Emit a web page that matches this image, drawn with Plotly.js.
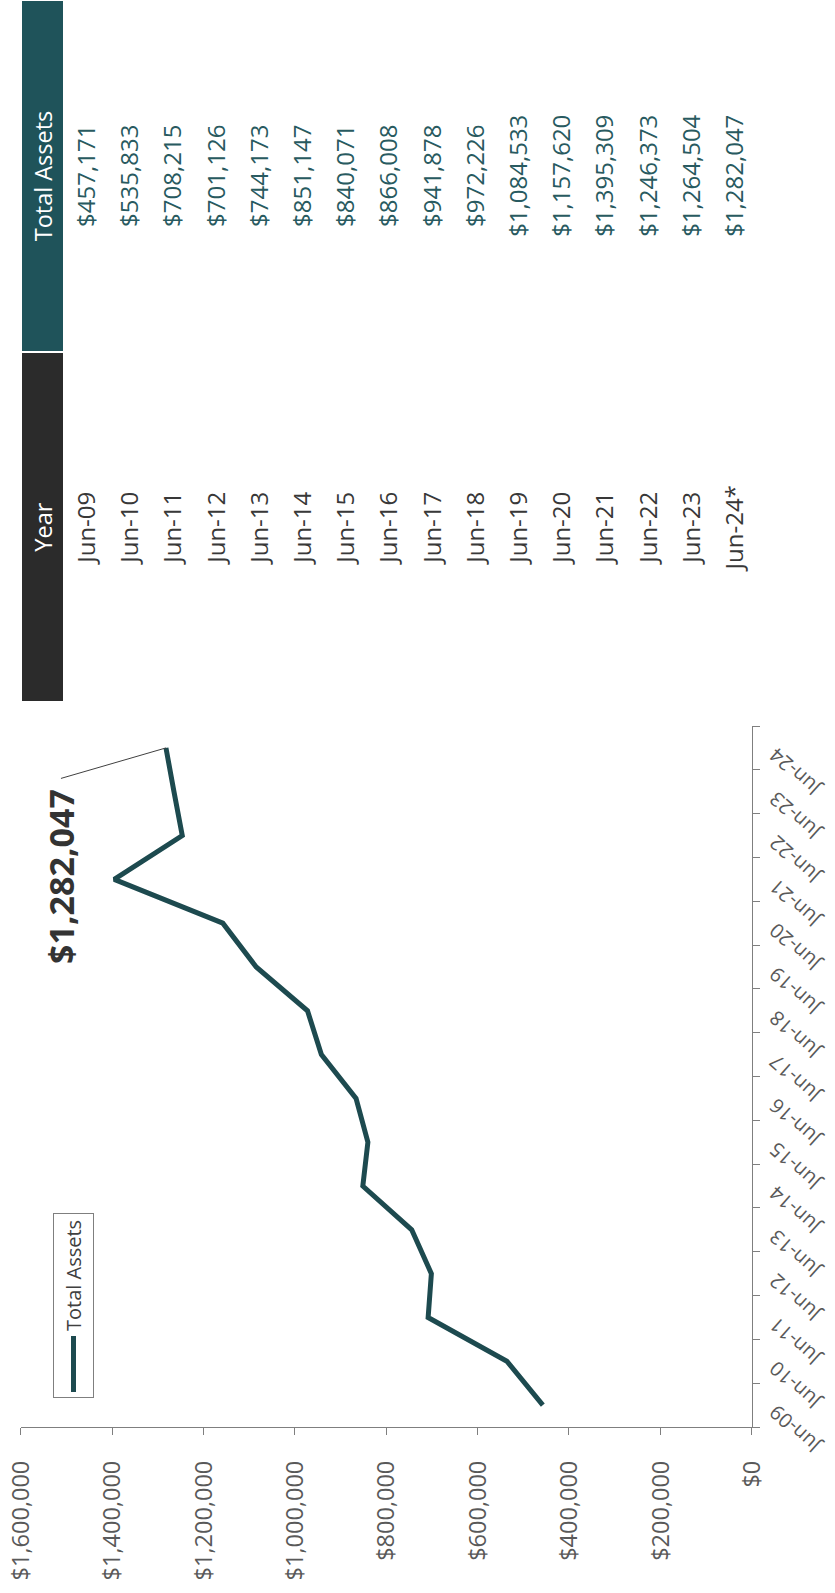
<!DOCTYPE html>
<html>
<head>
<meta charset="utf-8">
<script src="https://cdn.plot.ly/plotly-3.0.1.min.js"></script>
<style>
  html, body { margin: 0; padding: 0; background: #ffffff; }
  body { width: 835px; height: 1593px; overflow: hidden; position: relative; }
  #chart {
    position: absolute; left: 0; top: 0;
    width: 1593px; height: 835px;
    transform-origin: 0 0;
    transform: translate(0px, 1593px) rotate(-90deg);
  }
</style>
</head>
<body>
<div id="chart"></div>
<script>
// ---- data ----
const years = ['Jun-09','Jun-10','Jun-11','Jun-12','Jun-13','Jun-14','Jun-15','Jun-16',
               'Jun-17','Jun-18','Jun-19','Jun-20','Jun-21','Jun-22','Jun-23','Jun-24'];
const tableYears = ['Jun-09','Jun-10','Jun-11','Jun-12','Jun-13','Jun-14','Jun-15','Jun-16',
                    'Jun-17','Jun-18','Jun-19','Jun-20','Jun-21','Jun-22','Jun-23','Jun-24*'];
const totalAssets = [457171, 535833, 708215, 701126, 744173, 851147, 840071, 866008,
                     941878, 972226, 1084533, 1157620, 1395309, 1246373, 1264504, 1282047];
const tableHeaders = ['Year', 'Total Assets'];
const seriesName = 'Total Assets';

// ---- geometry (unrotated frame 1593 x 835) ----
const W = 1593, H = 835;
const fmt = v => '$' + v.toLocaleString('en-US');
const FONT = '"Open Sans", "DejaVu Sans", sans-serif';

const lineTrace = {
  type: 'scatter', mode: 'lines',
  x: years, y: totalAssets, name: seriesName,
  line: { color: '#1d4a4f', width: 5 },
  xaxis: 'x', yaxis: 'y'
};

// table body: one text column per table column, on its own hidden axes
const yearCol = {
  type: 'scatter', mode: 'text', showlegend: false,
  x: tableYears.map(() => tableHeaders[0]), y: tableYears,
  text: tableYears, textposition: 'middle center',
  textfont: { family: FONT, size: 24, color: '#383838' },
  xaxis: 'x2', yaxis: 'y2'
};
const assetCol = {
  type: 'scatter', mode: 'text', showlegend: false,
  x: tableYears.map(() => tableHeaders[1]), y: tableYears,
  text: totalAssets.map(fmt), textposition: 'middle center',
  textfont: { family: FONT, size: 24, color: '#285a60' },
  xaxis: 'x2', yaxis: 'y2'
};

const headerFill = ['#2b2b2b', '#1f535a'];
const headerAnnots = tableHeaders.map((h, i) => ({
  x: h, xref: 'x2', y: 1 - 42.5 / H, yref: 'paper',
  text: h, showarrow: false, xanchor: 'center', yanchor: 'middle',
  width: i === 0 ? 348 : 350, height: 41, borderpad: 0, borderwidth: 0,
  bgcolor: headerFill[i], align: 'center', valign: 'middle',
  font: { family: FONT, size: 23.5, color: '#ffffff' }
}));

const hidden = { visible: true, showline: false, showgrid: false, zeroline: false,
                 showticklabels: false, ticks: '', fixedrange: true };

const layout = {
  width: W, height: H,
  margin: { l: 0, r: 0, t: 0, b: 0 },
  paper_bgcolor: '#ffffff', plot_bgcolor: 'rgba(0,0,0,0)',
  font: { family: FONT, color: '#595959' },
  showlegend: true,
  legend: {
    x: 195 / W, y: 1 - 53 / H, xanchor: 'left', yanchor: 'top',
    bordercolor: '#7f7f7f', borderwidth: 1, bgcolor: '#ffffff',
    itemwidth: 56,
    font: { family: FONT, size: 20, color: '#404040' }
  },
  xaxis: {
    type: 'category', categoryorder: 'array', categoryarray: years,
    domain: [166 / W, 867 / W], range: [-0.5, 15.5],
    tickson: 'boundaries', ticks: 'outside', ticklen: 7, tickcolor: '#7f7f7f',
    showline: true, linecolor: '#7f7f7f', linewidth: 1,
    showgrid: false, zeroline: false, tickangle: -48,
    ticklabelstandoff: 4, ticklabelshift: -6,
    tickfont: { family: FONT, size: 20, color: '#595959' },
    fixedrange: true
  },
  yaxis: {
    domain: [(H - 751.7) / H, (H - 20.7) / H],
    range: [0, 1600000], dtick: 200000, tick0: 0,
    tickprefix: '$', tickformat: ',d',
    ticks: 'outside', ticklen: 7, tickcolor: '#7f7f7f',
    showline: true, linecolor: '#7f7f7f', linewidth: 1,
    showgrid: false, zeroline: false,
    ticklabelstandoff: 21,
    tickfont: { family: FONT, size: 23.5, color: '#595959' },
    fixedrange: true
  },
  xaxis2: Object.assign({}, hidden, {
    type: 'category', categoryorder: 'array', categoryarray: tableHeaders,
    domain: [890 / W, 1], range: [-0.5, 1.5], anchor: 'y2'
  }),
  yaxis2: Object.assign({}, hidden, {
    type: 'category', categoryorder: 'array', categoryarray: tableYears,
    domain: [1 - 758.6 / H, 1 - 67.4 / H], range: [15.5, -0.5], anchor: 'x2'
  }),
  annotations: headerAnnots.concat([{
    x: years[years.length - 1], y: totalAssets[totalAssets.length - 1],
    xref: 'x', yref: 'y',
    text: '<b>' + fmt(totalAssets[totalAssets.length - 1]) + '</b>',
    showarrow: true, arrowhead: 0, arrowwidth: 1, arrowcolor: '#404040',
    ax: -30.5, ay: -105, xanchor: 'right', yanchor: 'middle', borderpad: 10,
    font: { family: FONT, size: 34, color: '#333333' }
  }])
};

Plotly.newPlot('chart', [lineTrace, yearCol, assetCol], layout,
  { staticPlot: true, displayModeBar: false, responsive: false });
</script>
</body>
</html>
